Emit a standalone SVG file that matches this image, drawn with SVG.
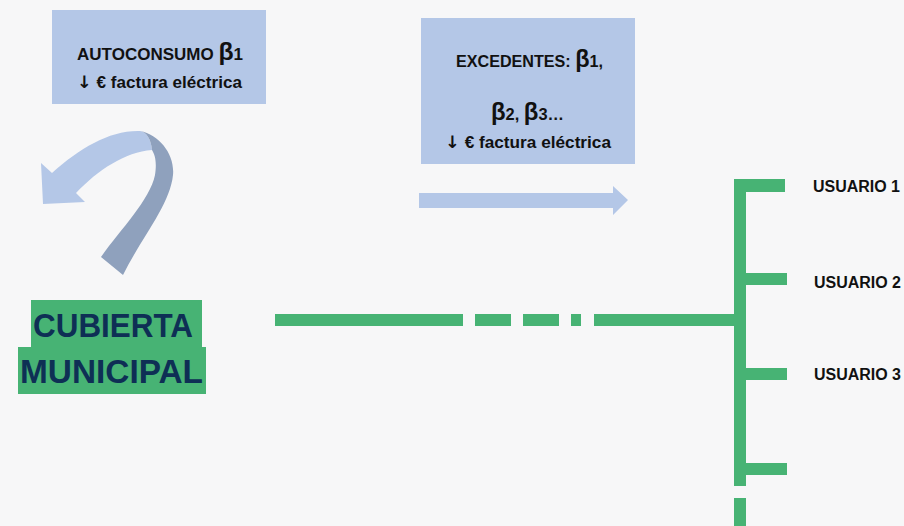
<svg xmlns="http://www.w3.org/2000/svg" width="904" height="526" viewBox="0 0 904 526">
<style>
.box{fill:#B4C7E7}
.lbl{font-family:"Liberation Sans",Arial,sans-serif;font-weight:bold;fill:#111111}
.ar{font-family:"DejaVu Sans",sans-serif;font-size:17px}
.g{fill:#47B374}
.big{font-family:"Liberation Sans",Arial,sans-serif;font-weight:bold;fill:#0E2F55}
</style>
<rect width="904" height="526" fill="#F7F7F8"/>
<g id="autoconsumo">
<rect class="box" x="52" y="10" width="214" height="94"/>
<text class="lbl" x="77" y="60" font-size="16.5" textLength="166" lengthAdjust="spacingAndGlyphs">AUTOCONSUMO <tspan font-size="24">β</tspan>1</text>
<text class="lbl" x="77" y="88" font-size="16.5" textLength="165" lengthAdjust="spacingAndGlyphs"><tspan class="ar">↓</tspan> € factura eléctrica</text>
</g>
<g id="excedentes">
<rect class="box" x="421" y="18" width="214" height="146"/>
<text class="lbl" x="456" y="67" font-size="16.5" textLength="147" lengthAdjust="spacingAndGlyphs">EXCEDENTES: <tspan font-size="24">β</tspan>1,</text>
<text class="lbl" x="491" y="120" font-size="16.5" textLength="73" lengthAdjust="spacingAndGlyphs"><tspan font-size="24">β</tspan>2, <tspan font-size="24">β</tspan>3…</text>
<text class="lbl" x="445" y="148" font-size="16.5" textLength="166" lengthAdjust="spacingAndGlyphs"><tspan class="ar">↓</tspan> € factura eléctrica</text>
</g>
<g id="curved-arrow">
<path fill="#B4C7E7" d="M41,163 L52,173 C80,148 110,130 140,131 C147,132 151,140 152,150 C125,152 98,170 76,193 L85,202 L43,204 Z"/>
<path fill="#8FA1BD" d="M140,131 C160,135 175,155 173,175 C170,205 140,240 123,275 L101,257 C120,230 150,200 155,175 C157,162 155,155 152,150 C151,140 147,132 140,131 Z"/>
</g>
<g id="cubierta">
<rect class="g" x="31" y="300" width="171" height="48"/>
<rect class="g" x="18" y="347" width="188" height="47"/>
<text class="big" x="33" y="337" font-size="33" textLength="160" lengthAdjust="spacingAndGlyphs">CUBIERTA</text>
<text class="big" x="20" y="383" font-size="33" textLength="183" lengthAdjust="spacingAndGlyphs">MUNICIPAL</text>
</g>
<g id="connectors">
<path fill="#B4C7E7" d="M419,193 L613,193 L613,186 L628,200 L613,215 L613,208 L419,208 Z"/>
<g class="g">
<rect x="275" y="314" width="188" height="12"/>
<rect x="475" y="314" width="36" height="12"/>
<rect x="523" y="314" width="36" height="12"/>
<rect x="571" y="314" width="10" height="12"/>
<rect x="594" y="314" width="146" height="12"/>
<rect x="734" y="179" width="12" height="307"/>
<rect x="734" y="498" width="12" height="28"/>
<rect x="734" y="179" width="51" height="13"/>
<rect x="734" y="273" width="53" height="12"/>
<rect x="734" y="368" width="53" height="12"/>
<rect x="734" y="463" width="53" height="12"/>
</g>
</g>
<g id="usuario1"><text class="lbl" x="813" y="192" font-size="16" textLength="87" lengthAdjust="spacingAndGlyphs">USUARIO 1</text></g>
<g id="usuario2"><text class="lbl" x="814" y="288" font-size="16" textLength="87" lengthAdjust="spacingAndGlyphs">USUARIO 2</text></g>
<g id="usuario3"><text class="lbl" x="814" y="380" font-size="16" textLength="87" lengthAdjust="spacingAndGlyphs">USUARIO 3</text></g>
</svg>
